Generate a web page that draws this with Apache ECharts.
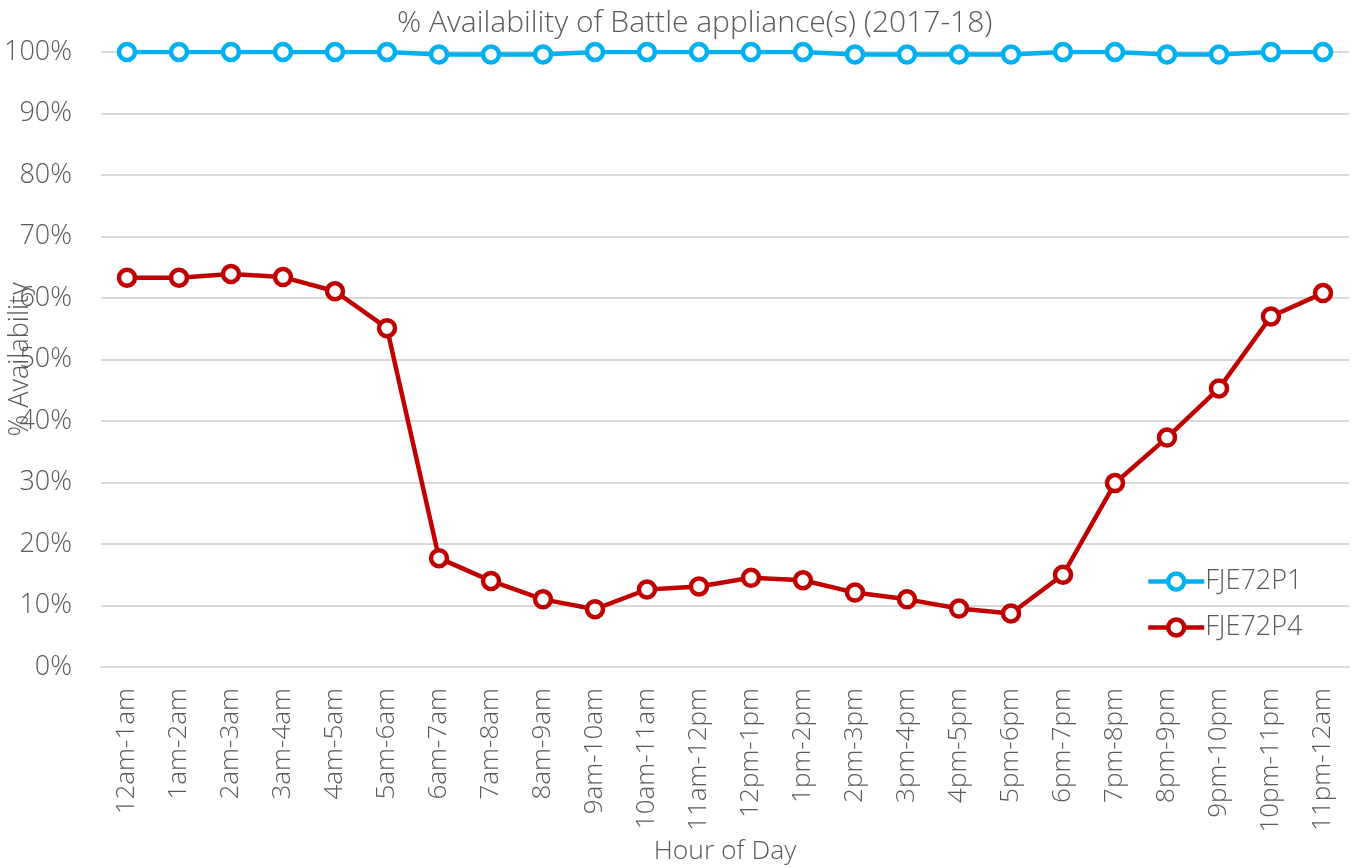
<!DOCTYPE html>
<html>
<head>
<meta charset="utf-8">
<script src="https://cdn.jsdelivr.net/npm/echarts@6/dist/echarts.min.js"></script>
<style>
  html, body { margin: 0; padding: 0; background: #fff; }
  #chart { width: 1352px; height: 868px; }
</style>
</head>
<body>
<div id="chart"></div>
<script>
// Hourly time slots
const hours = [
  '12am-1am', '1am-2am', '2am-3am', '3am-4am', '4am-5am', '5am-6am',
  '6am-7am', '7am-8am', '8am-9am', '9am-10am', '10am-11am', '11am-12pm',
  '12pm-1pm', '1pm-2pm', '2pm-3pm', '3pm-4pm', '4pm-5pm', '5pm-6pm',
  '6pm-7pm', '7pm-8pm', '8pm-9pm', '9pm-10pm', '10pm-11pm', '11pm-12am'
];

// % availability per appliance
const fje72p1 = [
  100, 100, 100, 100, 100, 100,
  99.6, 99.6, 99.6, 100, 100, 100,
  100, 100, 99.6, 99.6, 99.6, 99.6,
  100, 100, 99.6, 99.6, 100, 100
];
const fje72p4 = [
  63.3, 63.3, 63.9, 63.4, 61.1, 55.1,
  17.7, 14.0, 11.0, 9.4, 12.6, 13.1,
  14.5, 14.1, 12.1, 11.0, 9.5, 8.7,
  15.0, 29.9, 37.3, 45.3, 57.0, 60.8
];

const font = '"Open Sans", "Segoe UI", "Noto Sans", sans-serif';
const textGrey = '#595959';
const weight = 300;

const chart = echarts.init(document.getElementById('chart'));

function lineSeries(name, data, color) {
  return {
    name: name,
    type: 'line',
    data: data,
    symbol: 'circle',
    symbolSize: 16,
    lineStyle: { color: color, width: 4.5 },
    itemStyle: { color: '#ffffff', borderColor: color, borderWidth: 4.5 },
    emphasis: { disabled: true },
    animation: false
  };
}

chart.setOption({
  backgroundColor: '#ffffff',
  title: {
    text: '% Availability of Battle appliance(s) (2017-18)',
    left: 392,
    top: 3,
    textStyle: { fontFamily: font, fontSize: 30, fontWeight: weight, color: textGrey }
  },
  legend: {
    orient: 'vertical',
    left: 1141,
    top: 563,
    itemWidth: 56,
    itemHeight: 20,
    itemGap: 19,
    lineStyle: { width: 4.5 },
    itemStyle: { borderWidth: 4.5 },
    textStyle: { fontFamily: font, fontSize: 27, fontWeight: weight, color: textGrey, padding: [0, 0, 0, -4] },
    data: ['FJE72P1', 'FJE72P4']
  },
  grid: { left: 101, right: 3, top: 52, bottom: 201, containLabel: false, outerBoundsMode: 'none' },
  xAxis: {
    type: 'category',
    data: hours,
    boundaryGap: true,
    name: 'Hour of Day',
    nameLocation: 'middle',
    nameGap: 171,
    nameMoveOverlap: false,
    nameTextStyle: { fontFamily: font, fontSize: 26.5, fontWeight: weight, color: textGrey },
    axisLine: { show: true, lineStyle: { color: '#d9d9d9', width: 2 } },
    axisTick: { show: false },
    axisLabel: {
      rotate: 90,
      interval: 0,
      margin: 21,
      fontFamily: font,
      fontSize: 26,
      fontWeight: weight,
      color: textGrey
    }
  },
  yAxis: {
    type: 'value',
    min: 0,
    max: 100,
    interval: 10,
    name: '% Availability',
    nameLocation: 'middle',
    nameGap: 67,
    nameRotate: 90,
    nameMoveOverlap: false,
    nameTextStyle: { fontFamily: font, fontSize: 27, fontWeight: weight, color: textGrey },
    axisLine: { show: false },
    axisTick: { show: false },
    axisLabel: {
      formatter: '{value}%',
      margin: 29,
      fontFamily: font,
      fontSize: 27,
      fontWeight: weight,
      color: textGrey
    },
    splitLine: { lineStyle: { color: '#d9d9d9', width: 2 } }
  },
  series: [
    lineSeries('FJE72P1', fje72p1, '#00B0F0'),
    lineSeries('FJE72P4', fje72p4, '#C00000')
  ]
});
</script>
</body>
</html>
